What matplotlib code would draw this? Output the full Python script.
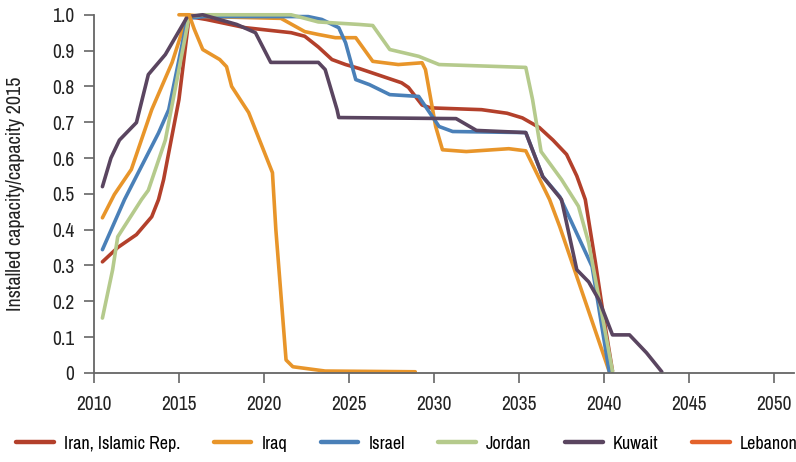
import matplotlib
matplotlib.use("Agg")
from matplotlib import pyplot as plt
from matplotlib.lines import Line2D
from matplotlib import font_manager

#look for a narrow font, otherwise DejaVu condensed / smaller text
narrow = [f.name for f in font_manager.fontManager.ttflist
          if 'Narrow' in f.name or 'Condensed' in f.name]
cond = [f.name for f in font_manager.fontManager.ttflist
        if str(f.stretch) in ('condensed', 'semi-condensed', 'extra-condensed')]
if narrow:
    plt.rcParams['font.family'] = [narrow[0], 'DejaVu Sans']
    fs, lfs, yfs = 14, 13, 14.5
elif cond:
    plt.rcParams['font.family'] = [cond[0], 'DejaVu Sans']
    plt.rcParams['font.stretch'] = 'condensed'
    fs, lfs, yfs = 12.5, 11.5, 12.5
else:
    plt.rcParams['font.family'] = ['DejaVu Sans']
    fs, lfs, yfs = 10.5, 9, 10.5

#series names + colours (legend)
names = ['Iran, Islamic Rep.', 'Iraq', 'Israel', 'Jordan', 'Kuwait', 'Lebanon']
colors = ['#B3402B', '#E8952A', '#4A80B8', '#B5CA8C', '#5A4560', '#E3622B']

#values
iran_x = [2010.5, 2011.4, 2012.5, 2013.4, 2013.8, 2014.1, 2014.4, 2015.0, 2015.6, 2016.6, 2018.9, 2021.6,
          2022.4, 2023.2, 2024.0, 2024.8, 2025.6, 2028.1, 2028.5, 2029.3, 2029.8, 2032.8, 2034.3, 2035.2,
          2036.2, 2037.0, 2037.8, 2038.4, 2038.9, 2039.5, 2040.0, 2040.5]
iran_y = [0.31, 0.35, 0.386, 0.436, 0.484, 0.54, 0.615, 0.763, 0.995, 0.987, 0.964, 0.95,
          0.94, 0.91, 0.875, 0.861, 0.85, 0.81, 0.797, 0.748, 0.74, 0.735, 0.725, 0.712,
          0.685, 0.65, 0.61, 0.55, 0.484, 0.307, 0.15, 0.005]

iraq_x = [2010.5, 2011.2, 2012.2, 2013.4, 2014.6, 2015.5, 2016.5, 2021.0, 2022.4, 2023.2, 2024.2, 2025.4,
          2026.4, 2027.9, 2029.3, 2029.5, 2030.1, 2030.5, 2031.9, 2034.4, 2035.4, 2036.8, 2037.4, 2040.3]
iraq_y = [0.433, 0.498, 0.568, 0.735, 0.867, 1.0, 0.995, 0.99, 0.953, 0.945, 0.936, 0.936,
          0.87, 0.861, 0.866, 0.847, 0.688, 0.623, 0.618, 0.626, 0.62, 0.484, 0.408, 0.005]

israel_x = [2010.5, 2011.8, 2013.8, 2014.4, 2015.5, 2016.5, 2022.6, 2023.4, 2024.4, 2024.8, 2025.4, 2026.2,
            2027.4, 2029.1, 2030.3, 2031.1, 2035.4, 2036.4, 2037.4, 2039.3, 2040.3]
israel_y = [0.344, 0.484, 0.67, 0.735, 0.99, 0.995, 0.995, 0.987, 0.964, 0.922, 0.819, 0.805,
            0.777, 0.772, 0.688, 0.674, 0.671, 0.548, 0.492, 0.297, 0.005]

jordan_x = [2010.5, 2011.1, 2011.4, 2012.8, 2013.2, 2014.2, 2015.6, 2016.5, 2021.6, 2023.2, 2025.6, 2026.4,
            2027.4, 2029.1, 2030.3, 2035.4, 2035.8, 2036.3, 2037.5, 2038.5, 2039.1, 2040.5]
jordan_y = [0.153, 0.288, 0.38, 0.484, 0.51, 0.65, 0.995, 1.0, 1.0, 0.98, 0.973, 0.97,
            0.903, 0.884, 0.861, 0.853, 0.763, 0.618, 0.54, 0.465, 0.363, 0.005]

kuwait_x = [2010.5, 2011.0, 2011.5, 2012.5, 2013.2, 2014.2, 2015.5, 2016.4, 2018.4, 2019.5, 2020.4, 2023.2,
            2023.6, 2024.3, 2024.4, 2031.3, 2032.5, 2035.4, 2036.4, 2037.5, 2038.4, 2039.1, 2039.7, 2040.5,
            2041.5, 2042.5, 2043.4]
kuwait_y = [0.52, 0.6, 0.65, 0.699, 0.833, 0.889, 0.995, 1.0, 0.973, 0.95, 0.867, 0.867,
            0.847, 0.735, 0.713, 0.71, 0.677, 0.671, 0.548, 0.484, 0.288, 0.254, 0.204, 0.106,
            0.106, 0.056, 0.003]

#second orange line (drawn in the same orange as Iraq in the picture)
leb_x = [2015.0, 2015.6, 2015.9, 2016.4, 2017.4, 2017.8, 2018.1, 2019.1, 2020.5, 2020.7, 2021.3, 2021.7,
         2023.6, 2028.9]
leb_y = [1.0, 1.0, 0.96, 0.903, 0.875, 0.855, 0.8, 0.727, 0.559, 0.4, 0.036, 0.017,
         0.005, 0.003]

series = [(iran_x, iran_y, colors[0]), (iraq_x, iraq_y, colors[1]), (israel_x, israel_y, colors[2]),
          (jordan_x, jordan_y, colors[3]), (kuwait_x, kuwait_y, colors[4]), (leb_x, leb_y, colors[1])]

xticks = [2010, 2015, 2020, 2025, 2030, 2035, 2040, 2045, 2050]
yticks = [0, 0.1, 0.2, 0.3, 0.4, 0.5, 0.6, 0.7, 0.8, 0.9, 1.0]
ytick_labels = ['0', '0.1', '0.2', '0.3', '0.4', '0.5', '0.6', '0.7', '0.8', '0.9', '1.0']

#plot
fig = plt.figure(figsize=(7.96, 4.62), dpi=100)
ax = fig.add_axes([0.118, 0.193, 0.88, 0.775])
for x, y, c in series:
    ax.plot(x, y, color=c, linewidth=2.6, solid_capstyle='round', clip_on=False)

ax.set_xlim(2010, 2051.2)
ax.set_ylim(0, 1.0)
ax.set_xticks(xticks)
ax.set_yticks(yticks)
ax.set_yticklabels(ytick_labels)
ax.tick_params(axis='both', labelsize=fs, colors='#222222', width=1.2)
ax.tick_params(axis='x', length=7, pad=9, color='#666666')
ax.tick_params(axis='y', length=7, pad=7, color='#666666')
for s in ['top', 'right']:
    ax.spines[s].set_visible(False)
for s in ['left', 'bottom']:
    ax.spines[s].set_color('#666666')
    ax.spines[s].set_linewidth(1.3)
ax.set_ylabel('Installed capacity/capacity 2015', fontsize=yfs, color='#222222')
ax.yaxis.set_label_coords(-0.098, 0.5)

handles = [Line2D([0], [0], color=c, linewidth=3.2, solid_capstyle='round') for c in colors]
fig.legend(handles, names, loc='center', bbox_to_anchor=(0.511, 0.04), ncol=6, frameon=False,
           fontsize=lfs, handlelength=2.1, columnspacing=1.85, handletextpad=0.55,
           borderpad=0, borderaxespad=0)

plt.savefig('out.png', dpi=100)
